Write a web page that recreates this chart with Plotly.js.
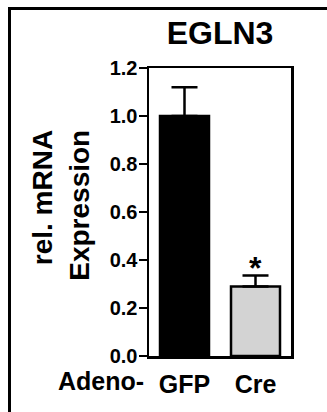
<!DOCTYPE html>
<html>
<head>
<meta charset="utf-8">
<script src="https://cdn.plot.ly/plotly-3.0.1.min.js"></script>
<style>
  html, body { margin: 0; padding: 0; background: #fff; overflow: hidden; }
  #frame { position: absolute; left: 8px; top: 7px; width: 400px; height: 500px; border: 3px solid #000; }
  #chart { position: absolute; left: 0; top: 0; width: 327px; height: 412px; }
</style>
</head>
<body>
<div id="frame"></div>
<div id="chart"></div>
<script>
const categories = ["GFP", "Cre"];
const values = [1.0, 0.29];
const errors = [0.12, 0.045];
const barColors = ["#000000", "#d3d3d3"];
const yTicks = [0.0, 0.2, 0.4, 0.6, 0.8, 1.0, 1.2];
const yTickLabels = ["0.0", "0.2", "0.4", "0.6", "0.8", "1.0", "1.2"];
const chartTitle = "EGLN3";
const yTitle = "rel. mRNA<br>Expression";
const xPrefix = "Adeno-";
const significance = ["", "*"];

const FONT = "Arial, 'Liberation Sans', Helvetica, sans-serif";

const trace = {
  type: "bar",
  x: categories,
  y: values,
  marker: { color: barColors, line: { color: "#000", width: 2.5 } },
  error_y: { type: "data", array: errors, symmetric: false, arrayminus: [0, 0], color: "#000", thickness: 2.5, width: 13 },
  hoverinfo: "skip"
};

const annotations = [
  {
    text: yTitle, textangle: -90, align: "right",
    xref: "paper", yref: "paper", x: -0.62, y: 0.525,
    xanchor: "center", yanchor: "middle", showarrow: false,
    font: { family: FONT, size: 28, color: "#000", weight: "bold" }
  },
  {
    text: xPrefix,
    xref: "paper", yref: "paper", x: -0.02, y: 0,
    xanchor: "right", yanchor: "top", yshift: -9, showarrow: false,
    font: { family: FONT, size: 25, color: "#000", weight: "bold" }
  }
];
categories.forEach((c, i) => {
  if (significance[i]) {
    annotations.push({
      text: significance[i], x: c, y: values[i] + errors[i],
      xref: "x", yref: "y", xanchor: "center", yanchor: "bottom",
      showarrow: false, yshift: -12,
      font: { family: FONT, size: 32, color: "#000", weight: "bold" }
    });
  }
});

const layout = {
  width: 327, height: 412,
  margin: { l: 149, r: 36, t: 68, b: 56, pad: 0 },
  paper_bgcolor: "rgba(0,0,0,0)",
  plot_bgcolor: "rgba(0,0,0,0)",
  showlegend: false,
  bargap: 0.31,
  title: {
    text: chartTitle, x: 0.5, xref: "paper", xanchor: "center",
    y: 1 - 33 / 412, yref: "container", yanchor: "middle",
    font: { family: FONT, size: 32, color: "#000", weight: "bold" }
  },
  xaxis: {
    type: "category", range: [-0.5, 1.5],
    showline: true, mirror: true, linecolor: "#000", linewidth: 2.5,
    ticks: "", showgrid: false, zeroline: false, fixedrange: true,
    ticklabelstandoff: 4,
    tickfont: { family: FONT, size: 25, color: "#000", weight: "bold" }
  },
  yaxis: {
    range: [0, 1.2], tickvals: yTicks, ticktext: yTickLabels,
    showline: true, mirror: true, linecolor: "#000", linewidth: 2.5,
    ticks: "outside", ticklen: 8, tickwidth: 2, tickcolor: "#000",
    showgrid: false, zeroline: false, fixedrange: true,
    ticklabelstandoff: -3,
    tickfont: { family: FONT, size: 20, color: "#000", weight: "bold" }
  },
  annotations: annotations
};

Plotly.newPlot("chart", [trace], layout, { staticPlot: true, displayModeBar: false });
</script>
</body>
</html>
